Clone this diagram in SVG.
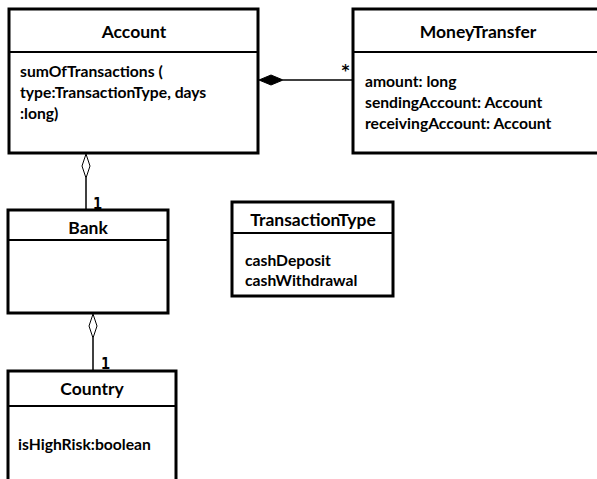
<svg xmlns="http://www.w3.org/2000/svg" width="597" height="479" viewBox="0 0 597 479">
<style>
.box{fill:#fff;stroke:#000;stroke-width:3}
.sep{stroke:#000;stroke-width:2}
.t{font-family:Lato,"Liberation Sans",sans-serif;font-weight:bold;font-size:17.5px;fill:#000;text-anchor:middle}
.a{font-family:Lato,"Liberation Sans",sans-serif;font-weight:bold;font-size:15.7px;fill:#000}
.m{font-family:"DejaVu Sans Mono","Liberation Mono",monospace;font-weight:bold;font-size:15px;fill:#000}
.ln{stroke:#000;stroke-width:1.5;fill:none}
</style>
<rect width="597" height="479" fill="#fff"/>
<g id="connectors">
  <line class="ln" x1="283" y1="80" x2="353" y2="80"/>
  <polygon points="259,80 271,75 283,80 271,85" fill="#000" stroke="#000" stroke-width="1"/>
  <text class="m" x="341" y="76" font-size="18">*</text>
  <line class="ln" x1="86" y1="178" x2="86" y2="210"/>
  <polygon points="86,154 90,166 86,178 82,166" fill="#fff" stroke="#000" stroke-width="1"/>
  <text class="m" x="93" y="209">1</text>
  <line class="ln" x1="93" y1="338" x2="93" y2="370"/>
  <polygon points="93,314 97,326 93,338 89,326" fill="#fff" stroke="#000" stroke-width="1"/>
  <text class="m" x="101" y="369">1</text>
</g>
<g id="Account">
  <rect class="box" x="9" y="9" width="249" height="144"/>
  <line class="sep" x1="9" y1="52" x2="258" y2="52"/>
  <text class="t" x="134" y="38">Account</text>
  <text class="a" x="20" y="77">sumOfTransactions (</text>
  <text class="a" x="20" y="98">type:TransactionType, days</text>
  <text class="a" x="20" y="119">:long)</text>
</g>
<g id="MoneyTransfer">
  <rect class="box" x="353" y="9" width="260" height="144"/>
  <line class="sep" x1="353" y1="52" x2="600" y2="52"/>
  <text class="t" x="478" y="38">MoneyTransfer</text>
  <text class="a" x="365" y="87">amount: long</text>
  <text class="a" x="365" y="108">sendingAccount: Account</text>
  <text class="a" x="365" y="129">receivingAccount: Account</text>
</g>
<g id="Bank">
  <rect class="box" x="8" y="210" width="160" height="103"/>
  <line class="sep" x1="8" y1="240" x2="168" y2="240"/>
  <text class="t" x="88" y="234">Bank</text>
</g>
<g id="TransactionType">
  <rect class="box" x="232" y="202" width="161" height="94"/>
  <line class="sep" x1="232" y1="233" x2="393" y2="233"/>
  <text class="t" x="313" y="226">TransactionType</text>
  <text class="a" x="245" y="266">cashDeposit</text>
  <text class="a" x="245" y="286">cashWithdrawal</text>
</g>
<g id="Country">
  <rect class="box" x="8" y="371" width="168" height="130"/>
  <line class="sep" x1="8" y1="406" x2="176" y2="406"/>
  <text class="t" x="92" y="395">Country</text>
  <text class="a" x="18" y="450">isHighRisk:boolean</text>
</g>
</svg>
